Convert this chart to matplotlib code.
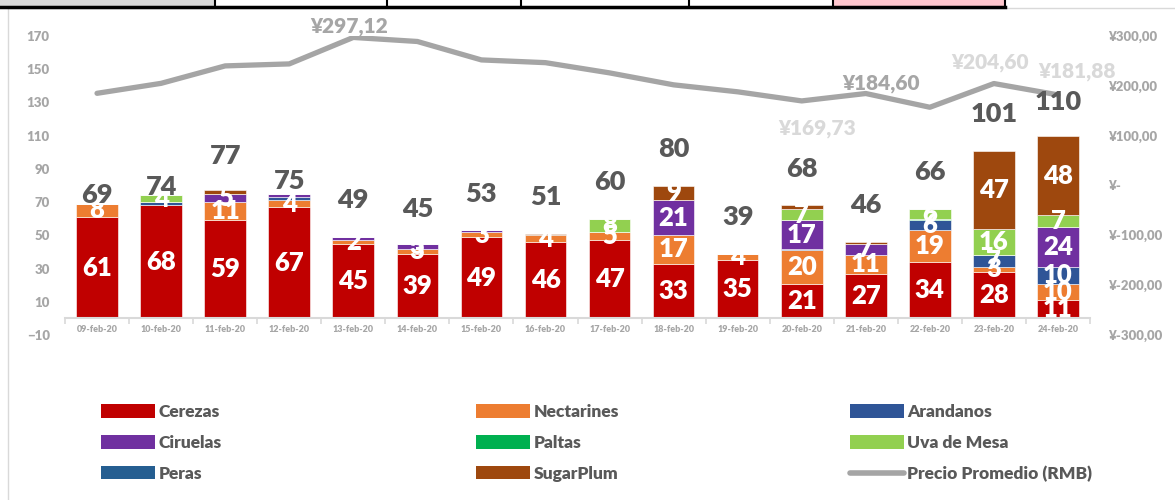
import matplotlib
matplotlib.use("Agg")
import matplotlib.pyplot as plt
from matplotlib.patches import Rectangle, Patch
from matplotlib.lines import Line2D
import numpy as np

plt.rcParams['font.family'] = ['Lato', 'DejaVu Sans']

dates = ['09-feb-20', '10-feb-20', '11-feb-20', '12-feb-20', '13-feb-20', '14-feb-20',
         '15-feb-20', '16-feb-20', '17-feb-20', '18-feb-20', '19-feb-20', '20-feb-20',
         '21-feb-20', '22-feb-20', '23-feb-20', '24-feb-20']
cerezas    = [61, 68, 59, 67, 45, 39, 49, 46, 47, 33, 35, 21, 27, 34, 28, 11]
nectarines = [8, 0, 11, 4, 2, 3, 3, 4, 5, 17, 4, 20, 11, 19, 3, 10]
arandanos  = [0, 2, 0, 2, 0, 0, 0, 0, 0, 0, 0, 1, 0, 6, 7, 10]
ciruelas   = [0, 0, 5, 2, 2, 3, 1, 0, 0, 21, 0, 17, 7, 0, 0, 24]
paltas     = [0, 0, 0, 0, 0, 0, 0, 0, 0, 0, 0, 0, 0, 1, 0, 0]
uva_mesa   = [0, 4, 0, 0, 0, 0, 0, 0, 8, 0, 0, 7, 0, 6, 16, 7]
peras      = [0, 0, 0, 0, 0, 0, 0, 0, 0, 0, 0, 0, 0, 0, 0, 0]
sugarplum  = [0, 0, 2, 0, 0, 0, 0, 1, 0, 9, 0, 2, 1, 0, 47, 48]
precio     = [185, 205, 240, 244, 297.12, 289, 252, 246.5, 226, 202, 188, 169.73,
              184.60, 157, 204.60, 181.88]

series_names = ['Cerezas', 'Nectarines', 'Arandanos', 'Ciruelas', 'Paltas',
                'Uva de Mesa', 'Peras', 'SugarPlum']
series_vals = [cerezas, nectarines, arandanos, ciruelas, paltas, uva_mesa, peras, sugarplum]
colors = ['#C00000', '#ED7D31', '#2F5597', '#7030A0', '#00B050', '#92D050', '#255E91', '#9E480E']
label_min = [3, 2, 3, 3, 3, 3, 3, 3]   # smallest segment that shows its label
line_color = '#A5A5A5'

# price labels shown (index -> colour)
price_label_idx = [4, 11, 12, 14, 15]
price_label_col = ['#A6A6A6', '#D9D9D9', '#A6A6A6', '#D9D9D9', '#D9D9D9']
price_label_off = [(-3, 8), (11, -20), (11, 7), (-3, 15), (14, 17)]   # points
total_lift = [5, 5, 21, 8, 22, 21, 22, 22, 22, 22, 22, 22, 22, 22, 22, 20]

W, H = 1175, 500
fig = plt.figure(figsize=(W / 100, H / 100), dpi=100)

# chart area border
fig.add_artist(Line2D([8 / W, 8 / W], [0, 1 - 8 / H], color='#D9D9D9', lw=1))
fig.add_artist(Line2D([8 / W, 1], [1 - 8 / H, 1 - 8 / H], color='#D9D9D9', lw=1))
# spreadsheet strip at top
fig.add_artist(Rectangle((0, 1 - 6 / H), 215 / W, 6 / H, facecolor='#D9D9D9', edgecolor='none'))
fig.add_artist(Rectangle((833 / W, 1 - 6 / H), 172 / W, 6 / H, facecolor='#FFC7CE', edgecolor='none'))
for xb in [215, 387, 521, 689, 833, 1005]:
    fig.add_artist(Line2D([xb / W, xb / W], [1 - 6 / H, 1], color='black', lw=1.5))
fig.add_artist(Line2D([0, 1005 / W], [1 - 6.5 / H, 1 - 6.5 / H], color='black', lw=2.5))

ax = fig.add_axes([65 / W, 1 - 335 / H, (1090 - 65) / W, (335 - 36) / H])
x = np.arange(len(dates))
bottom = np.zeros(len(dates))
for name, vals, c, lm in zip(series_names, series_vals, colors, label_min):
    v = np.array(vals, dtype=float)
    ax.bar(x, v, 0.65, bottom=bottom, color=c, edgecolor='white', linewidth=0.4, label=name, zorder=2)
    for i, val in enumerate(v):
        if val >= lm:
            ax.text(x[i], bottom[i] + val / 2, f'{int(val)}', ha='center', va='center',
                    color='white', fontsize=18.5, fontweight='heavy', zorder=5)
    bottom += v
totals = bottom

ax.set_xlim(-0.5, len(dates) - 0.5)
ax.set_ylim(-10, 170)
ax.set_yticks(np.arange(-10, 171, 20))
for s in ['top', 'right', 'left']:
    ax.spines[s].set_visible(False)
ax.spines['bottom'].set_position(('data', 0))
ax.spines['bottom'].set_color('#D9D9D9')
ax.spines['bottom'].set_linewidth(1.5)
ax.set_xticks(x)
ax.set_xticklabels(dates)
ax.set_xticks(np.arange(-0.5, len(dates), 1), minor=True)
ax.tick_params(axis='x', which='major', length=0, labelsize=6.5, labelcolor='#A6A6A6', pad=5)
ax.tick_params(axis='x', which='minor', length=4, color='#D9D9D9', width=1.2)
ax.tick_params(axis='y', length=0, labelsize=9.5, labelcolor='#A6A6A6', pad=11)
for lab in ax.get_xticklabels() + ax.get_yticklabels():
    lab.set_fontweight('heavy')

ax2 = ax.twinx()
ax2.set_ylim(-300, 300)
rt = np.arange(-300, 301, 100)
ax2.set_yticks(rt)
ax2.set_yticklabels([('¥-' if t == 0 else f'¥{t:.2f}'.replace('.', ',')) for t in rt])
ax2.tick_params(axis='y', length=0, labelsize=9.5, labelcolor='#A6A6A6', pad=13)
for lab in ax2.get_yticklabels():
    lab.set_fontweight('heavy')
for s in ax2.spines.values():
    s.set_visible(False)
ax2.plot(x, precio, color=line_color, lw=3.8, solid_capstyle='round', solid_joinstyle='round',
         zorder=3, label='Precio Promedio (RMB)')
for idx, col, off in zip(price_label_idx, price_label_col, price_label_off):
    ax2.annotate(f'¥{precio[idx]:.2f}'.replace('.', ','), (x[idx], precio[idx]),
                 xytext=off, textcoords='offset points', ha='center', va='center',
                 color=col, fontsize=15, fontweight='heavy', zorder=6)
for i, t in enumerate(totals):
    ax2.text(x[i], t + total_lift[i], f'{int(t)}', transform=ax.transData, ha='center',
             va='center', color='#595959', fontsize=19.5, fontweight='heavy', zorder=7)

# legends: three columns, laid out row-wise
handles = [Patch(facecolor=c, edgecolor='none') for c in colors]
handles.append(Line2D([0], [0], color=line_color, lw=4, solid_capstyle='round'))
labels = series_names + ['Precio Promedio (RMB)']
col_x = [101, 476, 850]
for ci in range(3):
    hs = [handles[ci + 3 * r] for r in range(3)]
    ls = [labels[ci + 3 * r] for r in range(3)]
    fig.legend(hs, ls, loc='upper left', bbox_to_anchor=(col_x[ci] / W, 1 - 404 / H),
               frameon=False, ncol=1, handlelength=3.1, handleheight=0.8, handletextpad=0.2,
               labelspacing=0.86, borderpad=0, borderaxespad=0,
               prop={'size': 12.5, 'weight': 'heavy'}, labelcolor='#595959')

fig.savefig('out.png', dpi=100)
